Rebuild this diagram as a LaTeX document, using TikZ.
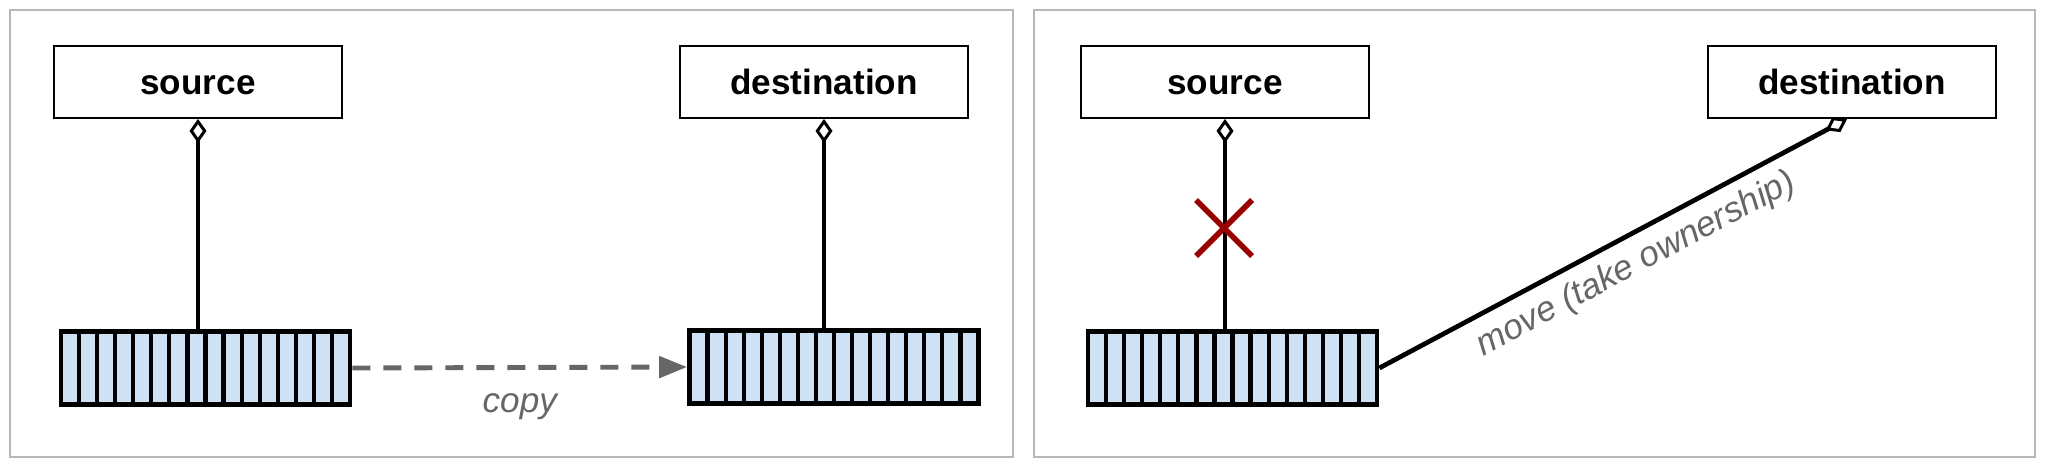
\documentclass[tikz,border=0pt]{standalone}
\usepackage{fontspec}
\setsansfont{Liberation Sans}
\usetikzlibrary{positioning,arrows.meta,calc}
\definecolor{framegray}{HTML}{B7B7B7}
\definecolor{labelgray}{HTML}{666666}
\definecolor{cellblue}{HTML}{CFE2F3}
\definecolor{crossred}{HTML}{990000}
\tikzset{owner/.style={rectangle, draw=black, line width=1.1pt, fill=white, minimum width=5.76cm, minimum height=1.44cm, text height=14pt, text depth=0pt, font=\sffamily\bfseries\fontsize{20}{24}\selectfont, text=black},
       buffer/.style={rectangle, draw=black, line width=2.7pt, fill=cellblue, minimum width=5.78cm, minimum height=1.46cm,
         path picture={\foreach \i in {1,...,15} \draw[line width=2.4pt] ($(path picture bounding box.north west)!\i/16!(path picture bounding box.north east)$) -- ($(path picture bounding box.south west)!\i/16!(path picture bounding box.south east)$);}},
       panel/.style={draw=framegray, line width=1.4pt},
       holds/.style={draw=black, line width=2.7pt, {Diamond[open, length=0.48cm, width=0.34cm, line width=1.7pt]}-},
       note/.style={text=labelgray, font=\sffamily\itshape\fontsize{20}{24}\selectfont}}

\begin{document}
\begin{tikzpicture}[x=0.02cm, y=-0.02cm]
\useasboundingbox (0,0) rectangle (2048,468);
\fill[white] (0,0) rectangle (2048,468);
\draw[panel] (10,10) rectangle (1013,457);
\draw[panel] (1034,10) rectangle (2035,457);

% copy
\node [owner] (src1) at (198,82) {source};
\node [owner] (dst1) at (824,82) {destination};
\node [buffer] (buf1) at (205.5,368) {};
\node [buffer] (buf2) at (834,367) {};
\draw [holds] (src1.south) -- (src1.south |- buf1.north);
\draw [holds] (dst1.south) -- (dst1.south |- buf2.north);
\draw [labelgray, line width=2.8pt, dash pattern=on 0.36cm off 0.26cm, -{Triangle[length=0.56cm, width=0.42cm]}]
  (buf1.east) -- node [note, below=0.35cm] {copy} (buf2.west);

% move
\node [owner] (src2) at (1225,82) {source};
\node [owner] (dst2) at (1852,82) {destination};
\node [buffer] (buf3) at (1232.5,368) {};
\coordinate (cut) at (1224,228);
\draw [holds] (src2.south) -- (src2.south |- buf3.north);
\draw [crossred, line width=3.2pt] (cut) +(-28,-28) -- +(28,28) (cut) +(-28,28) -- +(28,-28);
\draw [holds] ([xshift=-0.1cm]dst2.south) -- node [note, sloped, pos=0.48, below=0.1cm] {move (take ownership)} (buf3.east);
\end{tikzpicture}
\end{document}
